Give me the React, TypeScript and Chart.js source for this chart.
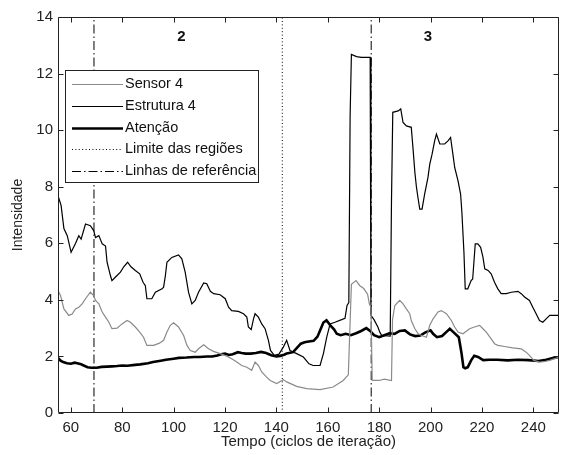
import React, { useEffect, useRef } from 'react';
import { Chart, registerables } from 'chart.js';

Chart.register(...registerables);

// ---- axis configuration ----
const xMin = 55;
const xMax = 250;
const yMin = 0;
const yMax = 14;
const xTicks = [60, 80, 100, 120, 140, 160, 180, 200, 220, 240];
const yTicks = [0, 2, 4, 6, 8, 10, 12, 14];

// ---- series (x = iteration cycle, y = intensity) ----
const sensor4: [number, number][] = [
  [55, 4.33], [56, 4.15], [57.3, 3.68], [59.2, 3.45], [60.5, 3.5], [61.8, 3.68], [63.1, 3.74],
  [64.4, 3.86], [65.7, 4.04], [67.6, 4.27], [68.9, 4.15], [69.6, 3.98], [70.9, 3.86], [72.2, 3.57],
  [73.5, 3.39], [74.8, 3.21], [76, 2.98], [78, 3.0], [79.9, 3.15], [81.9, 3.27], [83.2, 3.21],
  [85.1, 3.04], [86.8, 2.86], [88.3, 2.68], [89.6, 2.39], [92.2, 2.39], [94.5, 2.47], [96.1, 2.57],
  [97.4, 2.86], [98.7, 3.1], [100, 3.19], [101.9, 3.04], [103.9, 2.74], [105.2, 2.39], [106.5, 2.21],
  [108.4, 2.15], [109.7, 2.27], [111.7, 2.41], [113.6, 2.27], [115.5, 2.18], [118.1, 2.1],
  [120.7, 2.01], [122.6, 1.92], [124.6, 1.8], [126.5, 1.68], [128.5, 1.62], [130.4, 1.51],
  [131.7, 1.8], [133, 1.68], [134.3, 1.45], [136.2, 1.27], [137.6, 1.15], [140.1, 1.04],
  [142.7, 1.18], [144, 1.1], [147.9, 0.94], [151.8, 0.86], [157, 0.83], [162.1, 0.92],
  [166, 1.15], [168, 1.35], [169.2, 4.55], [171, 4.68], [172.5, 4.5], [174, 4.4], [175.5, 4.2],
  [176.2, 3.85], [176.8, 3.74], [177.3, 1.15], [180, 1.15], [182, 1.2], [184.8, 1.15],
  [185.2, 3.3], [186.1, 3.8], [188, 3.98], [189.3, 3.86], [190.6, 3.68], [191.9, 3.51],
  [192.5, 3.27], [193.9, 2.98], [195.2, 2.8], [196.5, 2.74], [198.4, 2.68], [199.7, 3.1],
  [201, 3.33], [202.9, 3.57], [204.2, 3.62], [206.2, 3.51], [208.1, 3.27], [209.4, 3.04],
  [210.7, 2.86], [212.6, 2.8], [215.2, 2.98], [217.1, 3.04], [219.1, 3.1], [220.4, 2.98],
  [221.7, 2.86], [223.6, 2.62], [224.9, 2.45], [226.2, 2.39], [228.8, 2.35], [232, 2.3],
  [235.3, 2.27], [237.2, 2.15], [238.5, 2.04], [240.2, 1.86], [242.4, 1.8], [244.5, 1.82],
  [246.4, 1.86], [248.3, 1.92], [250, 1.98],
];

const estrutura4: [number, number][] = [
  [55, 7.68], [56.2, 7.34], [57.3, 6.52], [58.6, 6.27], [60.1, 5.68], [61.8, 5.99], [63.1, 6.27],
  [64, 6.15], [65.7, 6.68], [67.6, 6.62], [68.9, 6.45], [69.6, 6.2], [70.9, 6.27], [72.2, 5.98],
  [73.5, 5.9], [74.1, 5.33], [75.4, 4.86], [76, 4.68], [77.3, 4.8], [79.3, 4.98], [80.6, 5.17],
  [82.1, 5.33], [83.4, 5.17], [85.1, 5.04], [86.8, 4.92], [88.1, 4.62], [89, 4.5], [89.6, 4.04],
  [91.5, 4.04], [92.9, 4.27], [95.5, 4.39], [96.1, 4.45], [96.8, 4.86], [97.4, 5.33], [99.3, 5.5],
  [101.9, 5.59], [103.2, 5.45], [104.5, 4.98], [105.8, 4.27], [107.1, 3.86], [108.4, 3.98],
  [109.7, 4.27], [111.7, 4.6], [112.9, 4.57], [114.3, 4.3], [115.6, 4.22], [118.1, 4.18],
  [120.1, 4.04], [121.4, 3.74], [122.6, 3.62], [125.2, 3.59], [127.2, 3.51], [128.5, 3.39],
  [129.1, 3.04], [130.2, 2.95], [131.1, 3.33], [131.7, 3.51], [133, 3.39], [134.3, 3.15],
  [135.6, 2.98], [136.9, 2.57], [137.7, 2.21], [139.2, 2.04], [141, 2.08], [142.7, 2.33],
  [144, 2.57], [145.3, 2.21], [147.9, 2.1], [150.5, 1.98], [152.7, 1.74], [154.3, 1.68],
  [157, 1.68], [158.3, 2.1], [159.6, 2.68], [160.9, 3.15], [162.8, 3.21], [165.4, 3.3],
  [166.7, 3.35], [167.5, 3.8], [168.2, 3.9], [168.7, 10.5], [169.2, 12.68], [171.2, 12.6],
  [173.1, 12.57], [176.5, 12.57], [176.8, 3.45], [178, 3.3], [179.5, 3.04], [180.3, 2.85],
  [181, 2.74], [184.3, 2.72], [184.8, 7.5], [185.3, 10.63], [187.4, 10.68], [188.4, 10.75],
  [189.3, 10.27], [190.6, 10.15], [192.5, 10.1], [193.2, 9.33], [193.9, 8.51], [194.5, 8.0],
  [195.1, 7.62], [195.8, 7.21], [196.7, 7.21], [197.7, 7.74], [199, 8.33], [199.7, 8.8],
  [200.6, 9.15], [201.6, 9.62], [202.3, 9.86], [203.6, 9.51], [205.5, 9.51], [206.8, 9.62],
  [207.8, 9.74], [208.7, 9.15], [209.4, 8.68], [210.7, 8.21], [211.7, 7.74], [212.2, 7.1],
  [213, 5.68], [213.5, 4.39], [214.5, 4.39], [215.8, 4.68], [216.4, 4.74], [217.4, 5.98],
  [218.4, 5.98], [219.5, 5.86], [220.4, 5.51], [221.1, 5.1], [222.4, 5.04], [223.6, 4.92],
  [224.9, 4.62], [226.2, 4.39], [227.5, 4.22], [229.5, 4.22], [231.4, 4.27], [234, 4.3],
  [235.3, 4.22], [236.6, 4.1], [238.5, 3.98], [239.8, 3.74], [241.1, 3.51], [242.4, 3.27],
  [243.7, 3.21], [245, 3.33], [246.4, 3.45], [250, 3.45],
];

const atencao: [number, number][] = [
  [55, 1.95], [56, 1.85], [57, 1.8], [58.5, 1.76], [60, 1.74], [61.5, 1.78], [62.5, 1.76],
  [64, 1.72], [65, 1.68], [66.5, 1.62], [68, 1.6], [70, 1.6], [72, 1.63], [74, 1.64], [76, 1.65],
  [78, 1.66], [80, 1.68], [82, 1.67], [85, 1.7], [87, 1.72], [90, 1.76], [92, 1.8], [95, 1.85],
  [97, 1.88], [100, 1.92], [102, 1.95], [105, 1.96], [108, 1.98], [110, 1.98], [113, 2.0],
  [115, 2.0], [117, 2.03], [118.5, 2.08], [120, 2.1], [121.5, 2.05], [123, 2.08], [125, 2.15],
  [126.5, 2.12], [128, 2.1], [130, 2.1], [132, 2.12], [134, 2.16], [136, 2.12], [138, 2.04],
  [140, 2.0], [141.5, 2.02], [143, 2.06], [144, 2.1], [146.5, 2.15], [148, 2.3], [149.5, 2.45],
  [151, 2.5], [152, 2.52], [154.5, 2.55], [156, 2.7], [157, 2.92], [158.3, 3.2], [159.5, 3.28],
  [161, 3.1], [162.5, 2.95], [163.5, 2.8], [165, 2.75], [167, 2.8], [169, 2.75], [171, 2.82],
  [173, 2.9], [175, 3.0], [176.5, 2.9], [178, 2.75], [180, 2.68], [182, 2.75], [184, 2.82],
  [186, 2.8], [188, 2.9], [190, 2.92], [192, 2.78], [194, 2.72], [196, 2.74], [198, 2.85],
  [200, 2.92], [201, 2.8], [202.5, 2.68], [204.5, 2.72], [206, 2.85], [207.5, 2.98], [209, 2.85],
  [211, 2.68], [212, 2.15], [212.8, 1.62], [213.5, 1.58], [214.5, 1.62], [215.8, 1.86],
  [217, 2.02], [218.5, 1.98], [220.5, 1.87], [223, 1.88], [226, 1.88], [230, 1.86], [234, 1.88],
  [238, 1.87], [242, 1.84], [245, 1.88], [248, 1.95], [250, 1.98],
];

// vertical markers (x positions, iteration cycles)
const regionLimits = [142.3];
const referenceLines = [69, 176.9];
const regionNames = ['2', '3'];
const regionNameX = [103, 199];
const regionNameY = 13.3;

const seriesLabels = ['Sensor 4', 'Estrutura 4', 'Atenção', 'Limite das regiões', 'Linhas de referência'];

const FONT = "'Liberation Sans', Arial, Helvetica, sans-serif";

function verticals(xs: number[]) {
  const pts: { x: number; y: number | null }[] = [];
  xs.forEach((x, i) => {
    if (i > 0) pts.push({ x, y: null });
    pts.push({ x, y: yMin });
    pts.push({ x, y: yMax });
  });
  return pts;
}

const framePlugin = {
  id: 'frame',
  afterDatasetsDraw(chart: any) {
    const { ctx, chartArea: a, scales } = chart;
    ctx.save();
    ctx.strokeStyle = '#222';
    ctx.lineWidth = 1;
    const L = Math.round(a.left) + 0.5;
    const R = Math.round(a.right) - 0.5;
    const T = Math.round(a.top) + 0.5;
    const B = Math.round(a.bottom) - 0.5;
    ctx.beginPath();
    ctx.rect(L, T, R - L, B - T);
    ctx.stroke();
    const tl = 5;
    ctx.beginPath();
    xTicks.forEach((v) => {
      const px = Math.round(scales.x.getPixelForValue(v)) + 0.5;
      ctx.moveTo(px, B);
      ctx.lineTo(px, B - tl);
      ctx.moveTo(px, T);
      ctx.lineTo(px, T + tl);
    });
    yTicks.forEach((v) => {
      const py = Math.round(scales.y.getPixelForValue(v)) + 0.5;
      ctx.moveTo(L, py);
      ctx.lineTo(L + tl, py);
      ctx.moveTo(R, py);
      ctx.lineTo(R - tl, py);
    });
    ctx.stroke();
    // region names
    ctx.fillStyle = '#111';
    ctx.font = `bold 15px ${FONT}`;
    ctx.textAlign = 'center';
    ctx.textBaseline = 'middle';
    regionNames.forEach((t, i) => {
      ctx.fillText(t, scales.x.getPixelForValue(regionNameX[i]), scales.y.getPixelForValue(regionNameY));
    });
    ctx.restore();
  },
};

const legendPlugin = {
  id: 'boxLegend',
  afterDraw(chart: any) {
    const { ctx } = chart;
    const bx = 65.5, by = 70.5, bw = 193, bh = 112;
    ctx.save();
    ctx.fillStyle = '#fff';
    ctx.fillRect(bx, by, bw, bh);
    ctx.strokeStyle = '#222';
    ctx.lineWidth = 1;
    ctx.setLineDash([]);
    ctx.strokeRect(bx, by, bw, bh);
    ctx.font = `14.5px ${FONT}`;
    ctx.textAlign = 'left';
    ctx.textBaseline = 'middle';
    chart.data.datasets.forEach((ds: any, i: number) => {
      const y = by + 13.5 + i * 21.8;
      ctx.beginPath();
      ctx.strokeStyle = ds.borderColor;
      ctx.lineWidth = ds.borderWidth;
      ctx.setLineDash(ds.borderDash || []);
      ctx.moveTo(72, Math.round(y) + 0.5);
      ctx.lineTo(123, Math.round(y) + 0.5);
      ctx.stroke();
      ctx.setLineDash([]);
      ctx.fillStyle = '#111';
      ctx.fillText(ds.label, 125, y);
    });
    ctx.restore();
  },
};

export default function App() {
  const ref = useRef<HTMLCanvasElement>(null);
  useEffect(() => {
    const toPts = (a: [number, number][]) => a.map(([x, y]) => ({ x, y }));
    const base = { pointRadius: 0, tension: 0, fill: false, spanGaps: false, borderCapStyle: 'butt', borderJoinStyle: 'miter' };
    const tickFont = { family: FONT, size: 15 };
    const chart = new Chart(ref.current as HTMLCanvasElement, {
      type: 'line',
      data: {
        datasets: [
          { ...base, label: seriesLabels[0], data: toPts(sensor4), borderColor: '#8a8a8a', borderWidth: 1.2 },
          { ...base, label: seriesLabels[1], data: toPts(estrutura4), borderColor: '#000', borderWidth: 1.2 },
          { ...base, label: seriesLabels[2], data: toPts(atencao), borderColor: '#000', borderWidth: 2.6 },
          { ...base, label: seriesLabels[3], data: verticals(regionLimits), borderColor: '#000', borderWidth: 1, borderDash: [1, 2.4] },
          { ...base, label: seriesLabels[4], data: verticals(referenceLines), borderColor: '#000', borderWidth: 1, borderDash: [9, 3, 1.5, 3] },
        ] as any,
      },
      options: {
        animation: false,
        responsive: false,
        layout: { padding: { top: 17, right: 2, left: 0, bottom: 0 } },
        plugins: { legend: { display: false }, tooltip: { enabled: false } },
        scales: {
          x: {
            type: 'linear',
            min: xMin,
            max: xMax,
            afterBuildTicks: (s: any) => { s.ticks = xTicks.map((v) => ({ value: v })); },
            afterFit: (s: any) => { s.height = 42; },
            grid: { display: false, drawTicks: false },
            border: { display: false },
            ticks: { padding: 6, color: '#222', font: tickFont, maxRotation: 0 },
            title: { display: true, text: 'Tempo (ciclos de iteração)', color: '#222', font: tickFont, padding: { top: 0, bottom: 4 } },
          },
          y: {
            type: 'linear',
            min: yMin,
            max: yMax,
            afterBuildTicks: (s: any) => { s.ticks = yTicks.map((v) => ({ value: v })); },
            afterFit: (s: any) => { s.width = 58; },
            grid: { display: false, drawTicks: false },
            border: { display: false },
            ticks: { padding: 5, color: '#222', font: tickFont },
            title: { display: true, text: 'Intensidade', color: '#222', font: { family: FONT, size: 14 }, padding: { top: 10, bottom: 0 } },
          },
        },
      } as any,
      plugins: [framePlugin, legendPlugin],
    });
    return () => chart.destroy();
  }, []);
  return (
    <div style={{ position: 'fixed', left: 0, top: 0, width: 561, height: 455, background: '#fff' }}>
      <canvas ref={ref} width={561} height={455} style={{ width: 561, height: 455, display: 'block' }} />
    </div>
  );
}
